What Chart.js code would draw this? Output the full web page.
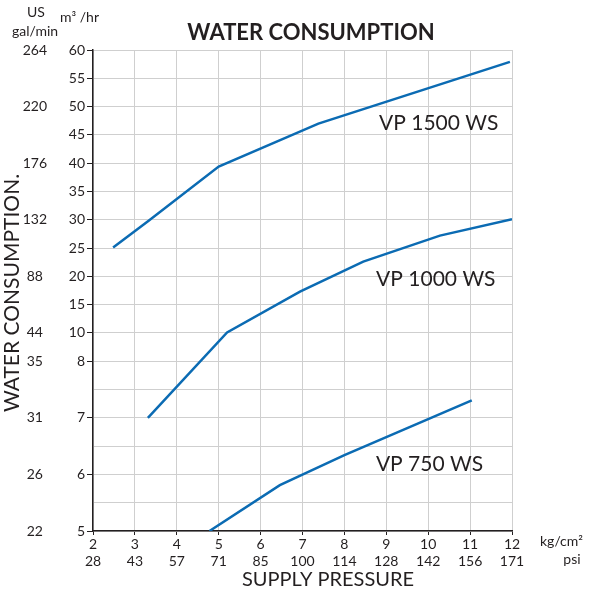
<!DOCTYPE html>
<html>
<head>
    <title>Water Consumption</title>
    <script src="https://cdn.jsdelivr.net/npm/chart.js"></script>
    <style>
        body { margin: 0; background: #fff; }
        #wrap { width: 591px; height: 593px; }
    </style>
</head>
<body>
    <div id="wrap"><canvas id="grafico"></canvas></div>

    <script>
        // pressure axis (kg/cm2 with psi under it)
        const pressureKg = [2, 3, 4, 5, 6, 7, 8, 9, 10, 11, 12];
        const pressurePsi = [28, 43, 57, 71, 85, 100, 114, 128, 142, 156, 171];

        // consumption axis, m3/hr and matching US gal/min
        const m3Labels = [5, 6, 7, 8, 10, 15, 20, 25, 30, 35, 40, 45, 50, 55, 60];
        const m3Minor = [5.5, 6.5, 7.5];
        const galAtM3 = [5, 6, 7, 8, 10, 20, 30, 40, 50, 60];
        const galLabels = [22, 26, 31, 35, 44, 88, 132, 176, 220, 264];

        // curves
        const vp1500Kg = [2.48, 3.32, 5.0, 7.38, 11.95];
        const vp1500M3 = [25.1, 29.8, 39.4, 47.0, 57.9];
        const vp1000Kg = [3.31, 5.2, 6.94, 8.45, 10.28, 12.0];
        const vp1000M3 = [7.0, 10.1, 17.3, 22.6, 27.2, 30.1];
        const vp750Kg = [4.78, 6.46, 8.0, 11.04];
        const vp750M3 = [5.0, 5.81, 6.34, 7.31];

        const seriesNames = ['VP 1500 WS', 'VP 1000 WS', 'VP 750 WS'];
        const labelKg = [10.25, 10.18, 10.03];
        const labelM3 = [47.1, 19.5, 6.18];

        const azul = '#0b6bb3';
        const fonte = 'Lato';

        // the m3/hr axis is stretched below 10: piecewise linear
        const quebras = [5, 8, 10, 60];
        const unidades = [0, 6, 7, 17];
        function paraUnidade(v) {
            for (let i = 1; i < quebras.length; i++) {
                if (v <= quebras[i]) {
                    const t = (v - quebras[i - 1]) / (quebras[i] - quebras[i - 1]);
                    return unidades[i - 1] + t * (unidades[i] - unidades[i - 1]);
                }
            }
            return unidades[unidades.length - 1];
        }
        function deUnidade(u) {
            for (let i = 1; i < unidades.length; i++) {
                if (u <= unidades[i]) {
                    const t = (u - unidades[i - 1]) / (unidades[i] - unidades[i - 1]);
                    return quebras[i - 1] + t * (quebras[i] - quebras[i - 1]);
                }
            }
            return quebras[quebras.length - 1];
        }

        class EscalaQuebrada extends Chart.LinearScale {
            getPixelForValue(value) {
                return this.getPixelForDecimal(paraUnidade(value) / unidades[unidades.length - 1]);
            }
            getValueForPixel(pixel) {
                return deUnidade(this.getDecimalForPixel(pixel) * unidades[unidades.length - 1]);
            }
        }
        EscalaQuebrada.id = 'quebrada';
        EscalaQuebrada.defaults = Chart.LinearScale.defaults;
        Chart.register(EscalaQuebrada);

        function pontos(xs, ys) {
            return xs.map((x, i) => ({ x: x, y: ys[i] }));
        }

        const textos = {
            id: 'textos',
            afterDraw(chart) {
                const ctx = chart.ctx;
                const sx = chart.scales.x, sy = chart.scales.y;
                ctx.save();
                ctx.fillStyle = '#231f20';
                ctx.textBaseline = 'middle';

                ctx.textAlign = 'center';
                ctx.font = 'bold 22px ' + fonte;
                ctx.fillText('WATER CONSUMPTION', 311, 33);

                ctx.font = '20px ' + fonte;
                ctx.fillText('SUPPLY PRESSURE', 328, 580);

                ctx.font = '21px ' + fonte;
                seriesNames.forEach((n, i) => {
                    ctx.fillText(n, sx.getPixelForValue(labelKg[i]), sy.getPixelForValue(labelM3[i]));
                });

                ctx.font = '14px ' + fonte;
                ctx.fillText('US', 36, 12);
                ctx.fillText('gal/min', 35, 31);
                ctx.fillText('psi', 572, 559);
                ctx.textAlign = 'left';
                ctx.fillText('m\u00b3 /hr', 60, 17);
                ctx.fillText('kg/cm\u00b2', 540, 541);

                ctx.translate(12, 293);
                ctx.rotate(-Math.PI / 2);
                ctx.textAlign = 'center';
                ctx.font = '21px ' + fonte;
                ctx.fillText('WATER CONSUMPTION.', 0, 0);
                ctx.restore();
            }
        };

        const canvas = document.getElementById('grafico');
        const grafico = new Chart(canvas.getContext('2d'), {
            type: 'line',
            data: {
                datasets: [
                    { label: seriesNames[0], data: pontos(vp1500Kg, vp1500M3) },
                    { label: seriesNames[1], data: pontos(vp1000Kg, vp1000M3) },
                    { label: seriesNames[2], data: pontos(vp750Kg, vp750M3) }
                ].map(d => Object.assign(d, {
                    borderColor: azul,
                    borderWidth: 2.5,
                    pointRadius: 0,
                    tension: 0,
                    fill: false
                }))
            },
            options: {
                responsive: true,
                maintainAspectRatio: false,
                animation: false,
                events: [],
                layout: { padding: { top: 50, right: 79, left: 0, bottom: 0 } },
                plugins: { legend: { display: false }, tooltip: { enabled: false } },
                scales: {
                    x: {
                        type: 'linear',
                        min: 2,
                        max: 12,
                        afterBuildTicks: s => { s.ticks = pressureKg.map(v => ({ value: v })); },
                        afterFit: s => { s.height = 62; },
                        border: { color: '#231f20', width: 1.5 },
                        grid: { color: '#cfcfcf', lineWidth: 1, tickLength: 4, tickColor: '#231f20' },
                        ticks: {
                            color: '#231f20',
                            font: { family: fonte, size: 14 },
                            padding: 1,
                            maxRotation: 0,
                            callback: v => {
                                const i = pressureKg.indexOf(v);
                                return [String(v), String(pressurePsi[i])];
                            }
                        }
                    },
                    y: {
                        type: 'quebrada',
                        position: 'left',
                        weight: 0,
                        min: 5,
                        max: 60,
                        afterBuildTicks: s => {
                            s.ticks = m3Labels.concat(m3Minor).sort((a, b) => a - b).map(v => ({ value: v }));
                        },
                        afterFit: s => { s.width = 46; },
                        border: { color: '#231f20', width: 1.5 },
                        grid: {
                            color: '#cfcfcf',
                            lineWidth: 1,
                            tickLength: 6,
                            tickColor: c => m3Labels.includes(c.tick.value) ? '#231f20' : 'rgba(0,0,0,0)'
                        },
                        ticks: {
                            color: '#231f20',
                            font: { family: fonte, size: 14 },
                            padding: 2,
                            callback: v => m3Labels.includes(v) ? String(v) : ''
                        }
                    },
                    yGal: {
                        type: 'quebrada',
                        position: 'left',
                        weight: 1,
                        min: 5,
                        max: 60,
                        afterBuildTicks: s => { s.ticks = galAtM3.map(v => ({ value: v })); },
                        afterFit: s => { s.width = 47; },
                        border: { display: false },
                        grid: { display: false, drawTicks: false },
                        ticks: {
                            color: '#231f20',
                            font: { family: fonte, size: 14 },
                            padding: 0,
                            crossAlign: 'center',
                            callback: v => String(galLabels[galAtM3.indexOf(v)])
                        }
                    }
                }
            },
            plugins: [textos]
        });
    </script>
</body>
</html>
